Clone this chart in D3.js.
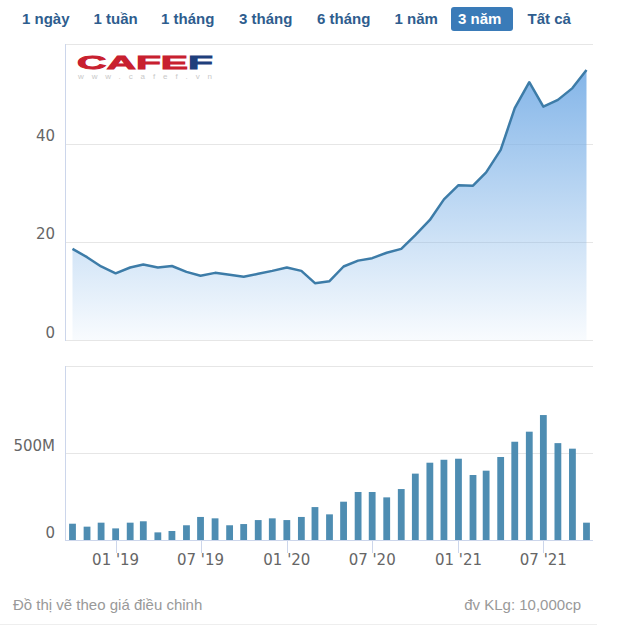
<!DOCTYPE html>
<html><head><meta charset="utf-8">
<script src="https://cdn.jsdelivr.net/npm/d3@7"></script>
<style>html,body{margin:0;padding:0;background:#fff;}svg{display:block;}</style>
</head><body>
<svg id="c" width="630" height="633"></svg>
<script>
const months = ["2018-10","2018-11","2018-12","2019-01","2019-02","2019-03","2019-04","2019-05","2019-06","2019-07","2019-08","2019-09","2019-10","2019-11","2019-12","2020-01","2020-02","2020-03","2020-04","2020-05","2020-06","2020-07","2020-08","2020-09","2020-10","2020-11","2020-12","2021-01","2021-02","2021-03","2021-04","2021-05","2021-06","2021-07","2021-08","2021-09","2021-10"];
const prices = [18.6,16.9,15.0,13.6,14.8,15.4,14.8,15.1,13.9,13.1,13.7,13.3,12.9,13.5,14.1,14.8,14.1,11.6,12.0,15.0,16.2,16.7,17.8,18.6,21.4,24.5,28.7,31.6,31.5,34.2,38.8,47.3,52.6,47.6,49.0,51.4,55.1];
const volumes = [94,77,100,67,100,108,44,52,85,133,125,85,92,115,125,115,133,190,148,221,277,277,246,294,383,446,463,469,375,400,479,567,625,721,559,527,100];
const priceTicks = [0,20,40];
const volumeTicks = [0,500];
const volumeTickLabels = ["0","500M"];
const dateTicks = ["2019-01","2019-07","2020-01","2020-07","2021-01","2021-07"];
const dateTickLabels = ["01 '19","07 '19","01 '20","07 '20","01 '21","07 '21"];
const buttons = ["1 ngày","1 tuần","1 tháng","3 tháng","6 tháng","1 năm","3 năm","Tất cả"];
const selectedButton = "3 năm";

const parse = d3.timeParse("%Y-%m");
const dates = months.map(parse);
const svg = d3.select("#c");

const plotL = 65, plotR = 593;
const x = d3.scaleTime().domain([dates[0], dates[dates.length-1]]).range([72.5, 586.5]);
const yP = d3.scaleLinear().domain([0, 60.4]).range([340, 44]);
const yV = d3.scaleLinear().domain([0, 1000]).range([540, 366.7]);

// Buttons
const btnX = [22, 93.5, 161, 239, 317, 394.5, 458, 527.5];
const btnG = svg.append("g");
buttons.forEach((b, i) => {
  const sel = b === selectedButton;
  if (sel) {
    btnG.append("rect").attr("x", 451).attr("y", 7).attr("width", 62).attr("height", 24)
      .attr("rx", 3).attr("fill", "#3a7bb8");
  }
  btnG.append("text").attr("x", btnX[i]).attr("y", 23.5)
    .attr("font-family", "Liberation Sans, Arial, sans-serif").attr("font-weight", "bold")
    .attr("font-size", 15).attr("fill", sel ? "#fff" : "#2e5d8e").text(b);
});

// Price panel frame
const defs = svg.append("defs");
const grad = defs.append("linearGradient").attr("id", "ag").attr("gradientUnits", "userSpaceOnUse")
  .attr("x1", 0).attr("y1", 44).attr("x2", 0).attr("y2", 340);
grad.append("stop").attr("offset", 0).attr("stop-color", "#78aee6").attr("stop-opacity", 1);
grad.append("stop").attr("offset", 1).attr("stop-color", "#7cb2e8").attr("stop-opacity", 0.05);

svg.append("line").attr("x1", plotL).attr("x2", plotR).attr("y1", 44.5).attr("y2", 44.5).attr("stroke", "#e6e6e6");
const pg = svg.append("g");
priceTicks.forEach(t => {
  pg.append("line").attr("x1", plotL).attr("x2", plotR).attr("y1", Math.round(yP(t)) + 0.5).attr("y2", Math.round(yP(t)) + 0.5)
    .attr("stroke", "#e6e6e6");
  pg.append("text").attr("x", 55).attr("y", yP(t) - 2.5).attr("text-anchor", "end")
    .attr("font-family", "DejaVu Sans, sans-serif").attr("font-size", 15).attr("fill", "#666").text(t);
});

// Logo
const logo = svg.append("g");
logo.append("text").attr("x", 77).attr("y", 68.5).attr("font-family", "Liberation Sans, Arial, sans-serif")
  .attr("font-weight", "bold").attr("font-size", 18).attr("textLength", 136).attr("lengthAdjust", "spacingAndGlyphs")
  .attr("fill", "#c8202f").attr("stroke", "#c8202f").attr("stroke-width", 0.8)
  .html('CAFE<tspan fill="#1f3f7c" stroke="#1f3f7c">F</tspan>');
logo.append("text").attr("x", 78).attr("y", 79).attr("font-family", "Liberation Sans, Arial, sans-serif")
  .attr("font-size", 8).attr("textLength", 134).attr("lengthAdjust", "spacing")
  .attr("fill", "#c9c9c9").text("www.cafef.vn");

// Area + line
const area = d3.area().x((d, i) => x(dates[i])).y0(yP(0)).y1(d => yP(d));
const line = d3.line().x((d, i) => x(dates[i])).y(d => yP(d));
svg.append("path").datum(prices).attr("d", area).attr("fill", "url(#ag)");
svg.append("path").datum(prices).attr("d", line).attr("fill", "none").attr("stroke", "#3d7ca8")
  .attr("stroke-width", 2.5).attr("stroke-linejoin", "round");
svg.append("line").attr("x1", plotL + 0.5).attr("x2", plotL + 0.5).attr("y1", 44).attr("y2", 341).attr("stroke", "#ccd6eb");

// Volume panel
svg.append("line").attr("x1", plotL).attr("x2", plotR).attr("y1", 366.5).attr("y2", 366.5).attr("stroke", "#e6e6e6");
const vg = svg.append("g");
volumeTicks.forEach((t, i) => {
  if (t !== 0) vg.append("line").attr("x1", plotL).attr("x2", plotR).attr("y1", Math.round(yV(t)) + 0.5).attr("y2", Math.round(yV(t)) + 0.5)
    .attr("stroke", "#e6e6e6");
  vg.append("text").attr("x", 55).attr("y", yV(t) - 2.5).attr("text-anchor", "end")
    .attr("font-family", "DejaVu Sans, sans-serif").attr("font-size", 15).attr("fill", "#666").text(volumeTickLabels[i]);
});
svg.append("g").selectAll("rect").data(volumes).join("rect")
  .attr("x", (d, i) => x(dates[i]) - 3.4).attr("width", 6.8)
  .attr("y", d => yV(d)).attr("height", d => yV(0) - yV(d)).attr("fill", "#4e8db2");
svg.append("line").attr("x1", plotL + 0.5).attr("x2", plotL + 0.5).attr("y1", 366).attr("y2", 541).attr("stroke", "#ccd6eb");
svg.append("line").attr("x1", plotL).attr("x2", plotR).attr("y1", 540.5).attr("y2", 540.5).attr("stroke", "#ccd6eb");
const xa = svg.append("g");
dateTicks.forEach((t, i) => {
  const xx = Math.round(x(parse(t))) + 0.5;
  xa.append("line").attr("x1", xx).attr("x2", xx).attr("y1", 540).attr("y2", 553).attr("stroke", "#ccd6eb");
  xa.append("text").attr("x", x(parse(t))).attr("y", 565).attr("text-anchor", "middle")
    .attr("font-family", "DejaVu Sans, sans-serif").attr("font-size", 15).attr("fill", "#666").text(dateTickLabels[i]);
});

// Footer
svg.append("text").attr("x", 13).attr("y", 610).attr("font-family", "Liberation Sans, Arial, sans-serif")
  .attr("font-size", 15).attr("fill", "#999").text("Đồ thị vẽ theo giá điều chỉnh");
svg.append("text").attr("x", 581).attr("y", 610).attr("text-anchor", "end").attr("font-family", "Liberation Sans, Arial, sans-serif")
  .attr("font-size", 15).attr("fill", "#999").text("đv KLg: 10,000cp");
svg.append("line").attr("x1", 0).attr("x2", 597).attr("y1", 624.5).attr("y2", 624.5).attr("stroke", "#eeeeee");
</script>
</body></html>
